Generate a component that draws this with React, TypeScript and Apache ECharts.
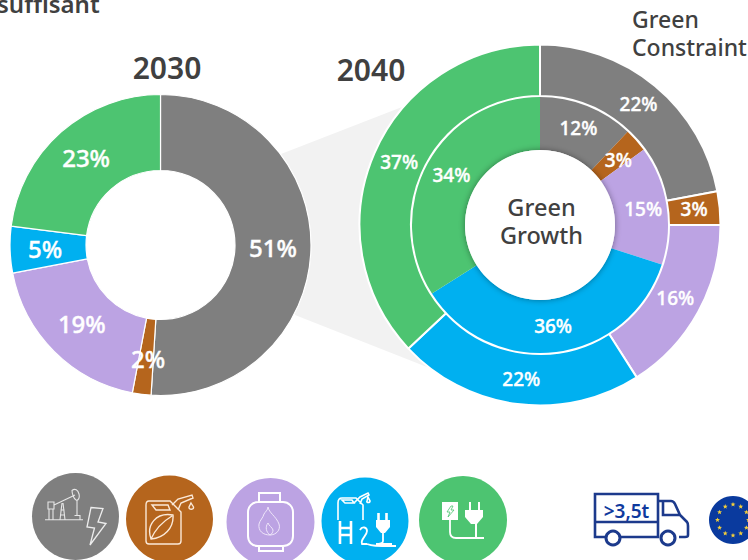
import React, { useEffect, useRef } from "react";
import * as echarts from "echarts";

const energyNames = ["Fossil & electricity", "Biofuel", "Biogas", "Hydrogen", "Electric"];
const energyColors = ["#7f7f7f", "#b5651d", "#bca3e3", "#00b0f0", "#4dc471"];
const values2030 = [51, 2, 19, 5, 23];
const values2040Outer = [22, 3, 16, 22, 37];
const values2040Inner = [12, 3, 15, 36, 34];

const FONT = "'Noto Sans', sans-serif";
const DARK = "#404040";
const NAVY = "#1c3a8c";

const pumpD = "M45 519.7H83 M49 519.7V509 M53 519.7V509 M48 502H54V509H48Z M60 519.7L62 503 M65 519.7L63 503 M60.5 510H64.5 M60 515H65 M54 505L75 495 M72 490.5C75 488 78 490 79 494C80 498 78 501 76 500C74 499 72 494 72 490.5Z M77 500V515 M74.5 515.5H80V519.7";
const boltD = "M91 507.5L103 508.5L98 522L106 523.5L90 545L94.5 528L87 527Z";
const canD = "M146 505C146 502 147 501 149 501H170L181 512V541C181 543 180 544 178 544H149C147 544 146 543 146 541Z M152 505L168 505L170 510H156Z M172 505L178 499L192 495L193 498L181 503L178 510 M191 503L193.5 507C194 510 188.5 510 189 507Z M151 539C155 530 162 522 172 516 M151 539C146 525 156 512 173 515C174 528 164 538 151 539Z";
const cylD = "M259 502V493H280V502 M258 502H283C289 502 293 507 293 512V536C293 542 289 546 283 546H258C252 546 248 542 248 536V512C248 507 252 502 258 502Z M259 546V551H283V546";
const flameD = "M268 507C269 513 276 516 279 524C281 530 276 535 270 535C263 535 258 531 259 524C260 520 263 518 264 514C265 512 268 510 268 507Z M270 535C266 532 265 527 268 523C269 526 272 527 273 530C273 532 272 534 270 535Z";
const h2CanD = "M338 520V503C338 500 339 498 342 498H356L363 505V520 M342 500H352L354 503H345Z M354 503L360 497L368 493L369 495L362 499L360 504 M368 497L370 501C370 503 366 503 367 501Z";
const h2LetterD = "M340 521V544 M351 521V544 M340 528H351 M340 535H351";
const two = "M360 530C362 526 367 527 367 531C367 536 360 539 362 544H367 M367 544C372 546 375 546 396 546";
const plugD = "M378.5 513V520 M386.5 513V520";
const plugBodyD = "M383 533V541C383 543 380 544 376 544H392";
const socketCordD = "M450 520V532C450 536 452 538 456 538H484";
const greenPlugD = "M476 524V538 M470 502V510 M479 502V510 M466 538H484";
const greenBoltD = "M451 506L447 512H450L448 517L454 510H451L453 506Z";
const truckD = "M595 494H658V537H595Z M595 522H658 M658 501H671C673 501 674 502 675 504L680 515L687 522C688 523 688 524 688 526V535C688 537 687 537 685 537H679 M663 501V515H680";

echarts.graphic.registerShape("pumpIcon", echarts.graphic.extendPath(pumpD, {}));
echarts.graphic.registerShape("boltIcon", echarts.graphic.extendPath(boltD, {}));
echarts.graphic.registerShape("canIcon", echarts.graphic.extendPath(canD, {}));
echarts.graphic.registerShape("cylIcon", echarts.graphic.extendPath(cylD, {}));
echarts.graphic.registerShape("flameIcon", echarts.graphic.extendPath(flameD, {}));
echarts.graphic.registerShape("h2Can", echarts.graphic.extendPath(h2CanD, {}));
echarts.graphic.registerShape("h2Letter", echarts.graphic.extendPath(h2LetterD, {}));
echarts.graphic.registerShape("h2Two", echarts.graphic.extendPath(two, {}));
echarts.graphic.registerShape("plugProngs", echarts.graphic.extendPath(plugD, {}));
echarts.graphic.registerShape("plugBody", echarts.graphic.extendPath(plugBodyD, {}));
echarts.graphic.registerShape("socketCord", echarts.graphic.extendPath(socketCordD, {}));
echarts.graphic.registerShape("greenPlug", echarts.graphic.extendPath(greenPlugD, {}));
echarts.graphic.registerShape("greenBolt", echarts.graphic.extendPath(greenBoltD, {}));
echarts.graphic.registerShape("truck", echarts.graphic.extendPath(truckD, {}));

const line = (type: string, width: number, color = "#fff") => ({
  type,
  x: 0,
  y: 0,
  z: 21,
  silent: true,
  style: { fill: "none", stroke: color, lineWidth: width },
});

const disc = (cx: number, cy: number, r: number, fill: string) => ({
  type: "circle",
  z: 20,
  silent: true,
  shape: { cx, cy, r },
  style: { fill },
});

const label = (text: string, x: number, y: number, fontSize: number, align = "center", fontWeight: any = 600, lineHeight?: number) => ({
  type: "text",
  x,
  y,
  z: 30,
  silent: true,
  style: { text, fontSize, fontFamily: FONT, fontWeight, fill: DARK, align, verticalAlign: "middle", lineHeight },
});

const star = (cx: number, cy: number, r: number) => {
  const pts: number[][] = [];
  for (let i = 0; i < 10; i++) {
    const a = -Math.PI / 2 + (i * Math.PI) / 5;
    const rr = i % 2 === 0 ? r : r * 0.42;
    pts.push([cx + rr * Math.cos(a), cy + rr * Math.sin(a)]);
  }
  return { type: "polygon", z: 22, silent: true, shape: { points: pts }, style: { fill: "#f4cf3a" } };
};

const euStars = () => {
  const out: any[] = [];
  for (let i = 0; i < 12; i++) {
    const a = (i * Math.PI) / 6;
    out.push(star(733 + 15.5 * Math.sin(a), 520 - 15.5 * Math.cos(a), 2.6));
  }
  return out;
};

const ring = (
  name: string,
  values: number[],
  center: number[],
  radius: number[],
  fontSize: number,
  borderWidth: number,
  labelOffsets: Record<number, number[]> = {},
) => ({
  type: "pie",
  name,
  silent: true,
  center,
  radius,
  startAngle: 90,
  clockwise: true,
  sort: undefined,
  avoidLabelOverlap: false,
  itemStyle: { borderColor: "#fff", borderWidth },
  labelLine: { show: false },
  label: {
    show: true,
    position: "inside",
    formatter: "{c}%",
    color: "#fff",
    fontSize,
    fontFamily: FONT,
    fontWeight: 500,
    textBorderColor: "#fff",
    textBorderWidth: 0.4,
  },
  data: values.map((value, i) => ({
    name: energyNames[i],
    value,
    itemStyle: { color: energyColors[i] },
    label: labelOffsets[i] ? { offset: labelOffsets[i] } : undefined,
  })),
});

export default function App() {
  const ref = useRef<HTMLDivElement>(null);
  useEffect(() => {
    document.body.style.margin = "0";
    const chart = echarts.init(ref.current!, undefined, { renderer: "svg" });
    chart.setOption({
      animation: false,
      backgroundColor: "#fff",
      series: [
        ring("2030", values2030, [160.5, 245], [74.5, 150.5], 24, 1.2, { 0: [-3, -1], 1: [2, -1], 2: [3, -3], 4: [2, -1] }),
        ring("2040 Green Constraint", values2040Outer, [540, 225], [129, 180.5], 19, 2, { 0: [-2, 1], 1: [-3, -1], 2: [-3, -3], 3: [1, -3], 4: [4, 0] }),
        ring("2040 Green Growth", values2040Inner, [540, 225], [75, 128], 19, 0, { 1: [0, 4], 3: [0, -3], 4: [3, 0] }),
      ],
      graphic: [
        {
          type: "polygon",
          z: 0,
          silent: true,
          shape: { points: [[281, 154], [402, 107], [427, 367], [295, 315]] },
          style: { fill: "#f2f2f2" },
        },
        {
          type: "circle",
          z: 15,
          silent: true,
          shape: { cx: 540, cy: 225, r: 75 },
          style: { fill: "#fff", shadowBlur: 6, shadowColor: "rgba(0,0,0,0.4)" },
        },
        label("suffisant", -3, 3, 24, "left", 600),
        label("2030", 167, 67, 30),
        label("2040", 371, 69, 30),
        label("Green\nConstraint", 632, 33, 23, "left", 500, 28),
        label("Green\nGrowth", 541.5, 221, 23.5, "center", 500, 28),

        disc(75.5, 516.5, 43.5, energyColors[0]),
        { ...line("pumpIcon", 1.1, "#e6e6e6") },
        { ...line("boltIcon", 1.3, "#ededed") },
        disc(169.5, 519, 43.5, energyColors[1]),
        { ...line("canIcon", 1.4, "#fbe9d8") },
        disc(270.5, 522, 44, energyColors[2]),
        { ...line("cylIcon", 2) },
        { ...line("flameIcon", 1, "#efe6fa") },
        disc(365, 521, 43.5, energyColors[3]),
        { ...line("h2Can", 1.6) },
        { ...line("h2Letter", 2.6) },
        { ...line("h2Two", 1.8) },
        { ...line("plugProngs", 2.6) },
        { ...line("plugBody", 1.8) },
        {
          type: "polygon",
          z: 21,
          silent: true,
          shape: { points: [[376, 520], [390, 520], [390, 527], [385, 533], [381, 533], [376, 527]] },
          style: { fill: "#fff" },
        },
        disc(463, 520, 44, energyColors[4]),
        { type: "rect", z: 21, silent: true, shape: { x: 442, y: 502, width: 16, height: 18 }, style: { fill: "#fff" } },
        { ...line("greenBolt", 0.8, energyColors[4]) },
        { ...line("socketCord", 1.8) },
        { ...line("greenPlug", 2) },
        {
          type: "polygon",
          z: 21,
          silent: true,
          shape: { points: [[465, 510], [483, 510], [483, 517], [477, 524], [471, 524], [465, 517]] },
          style: { fill: "#fff" },
        },
        { ...line("truck", 2.6, NAVY) },
        {
          type: "circle",
          z: 22,
          silent: true,
          shape: { cx: 613, cy: 538, r: 7 },
          style: { fill: "#fff", stroke: NAVY, lineWidth: 3 },
        },
        {
          type: "circle",
          z: 22,
          silent: true,
          shape: { cx: 668, cy: 538, r: 7 },
          style: { fill: "#fff", stroke: NAVY, lineWidth: 3 },
        },
        {
          type: "text",
          x: 626.5,
          y: 510.5,
          z: 23,
          silent: true,
          style: {
            text: ">3,5t",
            fontSize: 19,
            fontWeight: 600,
            fontFamily: FONT,
            fill: "#0f3a9e",
            align: "center",
            verticalAlign: "middle",
          },
        },
        disc(733, 520, 24, "#0a3a9e"),
        ...euStars(),
      ],
    });
    return () => chart.dispose();
  }, []);
  return <div ref={ref} style={{ position: "fixed", left: 0, top: 0, width: 748, height: 560 }} />;
}
